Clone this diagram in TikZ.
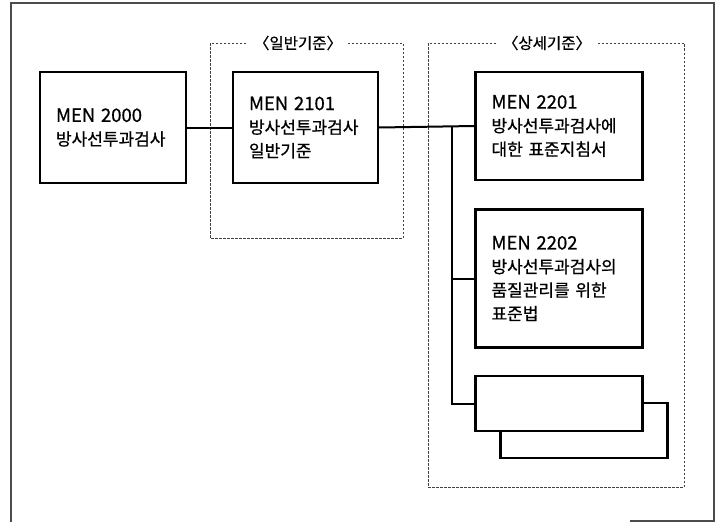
\documentclass[tikz,border=0pt]{standalone}
\usepackage{fontspec}
\setmainfont{Noto Sans CJK KR}[UprightFeatures={FakeBold=0.7}]
\usetikzlibrary{positioning, calc}

\newcommand{\stdno}[1]{{\fontsize{18.5}{24}\selectfont #1}}

\begin{document}
\begin{tikzpicture}[x=1pt, y=-1pt,
    stdbox/.style={draw, line width=2.2pt, fill=white, align=left, inner xsep=16pt, inner ysep=0pt, font=\fontsize{17}{23.5}\selectfont},
    groupframe/.style={draw=black!75, line width=0.8pt, dash pattern=on 2.5pt off 1.5pt},
    grouplabel/.style={fill=white, inner xsep=6pt, inner ysep=1pt, font=\fontsize{15.5}{17}\selectfont},
    link/.style={line width=2pt}]
    \useasboundingbox (0,0) rectangle (717,522);

    % Outer frame (bottom edge only partly printed)
    \draw[line width=1.5pt, black!70] (630,521) -- (714,521) -- (714,3) -- (11,3) -- (11,522);

    % Groups
    \draw[groupframe] (210,43) rectangle (403,238);
    \draw[groupframe] (428,43) rectangle (684,487);
    \node[grouplabel] (general) at (298,43) {〈일반기준〉};
    \node[grouplabel] (detail) at (547,43) {〈상세기준〉};

    % Standards
    \node[stdbox, text width=114pt, minimum height=111pt] (men2000) at (113,127.5) {\stdno{MEN 2000}\\방사선투과검사};
    \node[stdbox, text width=113pt, minimum height=111pt] (men2101) at (305.5,127.5) {\stdno{MEN 2101}\\방사선투과검사\\일반기준};
    \node[stdbox, text width=135pt, minimum height=108pt] (men2201) at (559,126) {\stdno{MEN 2201}\\방사선투과검사에\\대한 표준지침서};
    \node[stdbox, text width=135pt, minimum height=138pt] (men2202) at (559,278.5) {\stdno{MEN 2202}\\방사선투과검사의\\품질관리를 위한\\표준법};
    \node[stdbox, text width=135pt, minimum height=55pt] (moreback) at (584,430.5) {};
    \node[stdbox, text width=135pt, minimum height=55pt] (more) at (559,403.5) {};

    % Connectors
    \coordinate (trunk) at (452,0);
    \draw[link] (men2000.east) -- (men2101.west);
    \draw[link] (men2101.east) -- (men2201.west);
    \draw[link] (trunk |- men2201.west) -- (trunk |- more.west) -- (more.west);
    \draw[link] (trunk |- men2202.west) -- (men2202.west);
\end{tikzpicture}
\end{document}
